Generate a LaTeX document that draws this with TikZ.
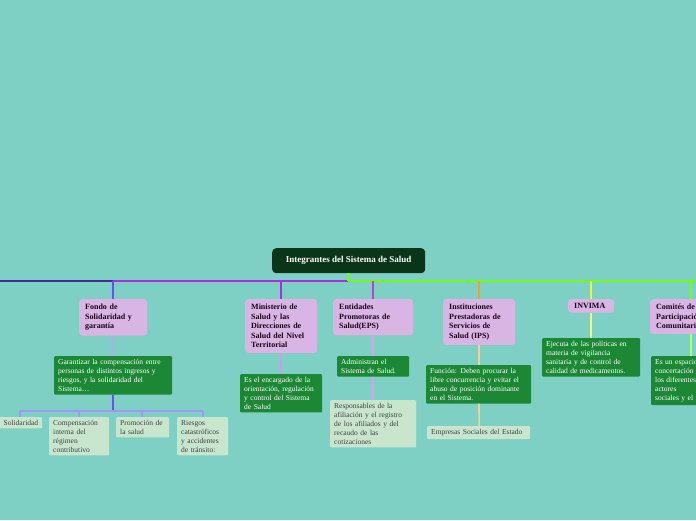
\documentclass[tikz,border=0pt]{standalone}
\usepackage{fontspec}
\setmainfont{Liberation Serif}
\usetikzlibrary{positioning}

\definecolor{bgteal}{HTML}{7ECFC4}
\definecolor{rootgreen}{HTML}{0B3519}
\definecolor{lilac}{HTML}{D9B5E3}
\definecolor{leafgreen}{HTML}{1C8835}
\definecolor{palegreen}{HTML}{C8E6CE}
\definecolor{linkblue}{HTML}{6A50F0}
\definecolor{linkpurple}{HTML}{A830E0}
\definecolor{linkmag}{HTML}{C040D0}
\definecolor{linkorange}{HTML}{F0A030}
\definecolor{linkyellow}{HTML}{E0FF30}
\definecolor{linklime}{HTML}{70FF10}

\tikzset{
  topic/.style={fill=lilac, rounded corners=3pt, anchor=north west, align=left,
    font=\fontsize{8}{9.5}\selectfont\bfseries, text=black!80!violet,
    inner xsep=6pt, inner ysep=5pt},
  info/.style={fill=leafgreen, rounded corners=1pt, anchor=north west, align=left,
    font=\fontsize{7.5}{9}\selectfont, text=white, inner xsep=4pt, inner ysep=3pt},
  detail/.style={fill=palegreen, rounded corners=1pt, anchor=north west, align=left,
    font=\fontsize{7.5}{9}\selectfont, text=black!75, inner xsep=4pt, inner ysep=3pt},
  link/.style={line width=1.6pt}
}

\begin{document}
\begin{tikzpicture}[x=1pt,y=-1pt]
    % Canvas
    \useasboundingbox[fill=bgteal] (0,0) rectangle (696,520);
    \clip (0,0) rectangle (696,520);

    % Root
    \node[fill=rootgreen, rounded corners=4pt, text=white, font=\fontsize{9}{11}\selectfont\bfseries,
        minimum width=153pt, minimum height=25pt, anchor=north west] (root) at (272,248)
        {Integrantes del Sistema de Salud};

    % Bus
    \coordinate (busL) at (0,281);
    \coordinate (busM) at (348,281);
    \coordinate (busR) at (696,281);
    \draw[link, linkblue!60!black] (busL) -- (113,281);
    \draw[link, linkpurple] (113,281) -- (busM);
    \draw[link, linklime] (busM) -- (busR);
    \draw[link, linklime, line width=3pt] (root.south -| busM) -- (busM);

    % Topics
    \node[topic, text width=56pt] (fondo) at (79,299) {Fondo de\\Solidaridad y\\garantía};
    \node[topic, text width=60pt] (minis) at (245,299) {Ministerio de\\Salud y las\\Direcciones de\\Salud del Nivel\\Territorial};
    \node[topic, text width=68pt] (eps) at (333,299) {Entidades\\Promotoras de\\Salud(EPS)};
    \node[topic, text width=60pt] (ips) at (443,299) {Instituciones\\Prestadoras de\\Servicios de\\Salud (IPS)};
    \node[topic, text width=34pt, inner ysep=4pt] (invima) at (568,299) {INVIMA};
    \node[topic, text width=70pt] (comites) at (650,299) {Comités de\\Participación\\Comunitaria};

    % Info boxes
    \node[info, text width=110pt] (garant) at (54,356) {Garantizar la compensación entre\\personas de distintos ingresos y\\riesgos, y la solidaridad del\\Sistema\dots};
    \node[info, text width=74pt] (encarg) at (240,374) {Es el encargado de la\\orientación, regulación\\y control del Sistema\\de Salud};
    \node[info, text width=64pt] (admin) at (337,356) {Administran el\\Sistema de Salud.};
    \node[info, text width=97pt] (funcion) at (426,365) {Función: Deben procurar la\\libre concurrencia y evitar el\\abuso de posición dominante\\en el Sistema.};
    \node[info, text width=90pt] (ejecuta) at (542,338) {Ejecuta de las políticas en\\materia de vigilancia\\sanitaria y de control de\\calidad de medicamentos.};
    \node[info, text width=64pt] (espacio) at (651,356) {Es un espacio de\\concertación entre\\los diferentes\\actores\\sociales y el};

    % Detail boxes
    \node[detail, text width=38pt] (solid) at (-4,417) {\hfill Solidaridad};
    \node[detail, text width=52pt] (compen) at (49,417) {Compensación\\interna del\\régimen\\contributivo};
    \node[detail, text width=45pt] (promo) at (116,417) {Promoción de\\la salud};
    \node[detail, text width=43pt] (riesgo) at (177,417) {Riesgos\\catastróficos\\y accidentes\\de tránsito:};
    \node[detail, text width=78pt] (respon) at (330,400) {Responsables de la\\afiliación y el registro\\de los afiliados y del\\recaudo de las\\cotizaciones};
    \node[detail, text width=95pt] (empres) at (427,426) {Empresas Sociales del Estado};

    % Branch links
    \draw[link, linkblue] (fondo.north |- busL) -- (fondo.north);
    \draw[link, linkpurple] (minis.north |- busL) -- (minis.north);
    \draw[link, linkmag] (eps.north |- busL) -- (eps.north);
    \draw[link, linkorange] (ips.north |- busL) -- (ips.north);
    \draw[link, linkyellow] (invima.north |- busL) -- (invima.north);
    \draw[link, linklime] (comites.north |- busL) -- (comites.north);

    \draw[link, linkblue!50!white] (fondo) -- (garant.north -| fondo);
    \draw[link, linkpurple!50!white] (minis) -- (encarg.north -| minis);
    \draw[link, linkmag!50!white] (eps) -- (admin.north -| eps);
    \draw[link, linkmag!50!white] (admin) -- (respon.north -| admin);
    \draw[link, linkorange!50!white] (ips) -- (funcion.north -| ips);
    \draw[link, linkorange!50!white] (funcion) -- (empres.north -| ips);
    \draw[link, linkyellow!60!white] (invima) -- (ejecuta.north -| invima);
    \draw[link, linklime!60!white] (comites) -- (espacio.north -| comites);

    % Sub bus under Garantizar
    \coordinate (subbus) at (113,411);
    \draw[link, linkblue, line width=2.2pt] (garant.south -| subbus) -- (subbus);
    \draw[link, linkblue!60] (20,411) -- (203,411);
    \foreach \leaf/\xx in {solid/20, compen/79, promo/142, riesgo/203}
        \draw[link, linkblue!60] (\xx,411) -- (\leaf.north -| \xx,0);
\end{tikzpicture}
\end{document}
